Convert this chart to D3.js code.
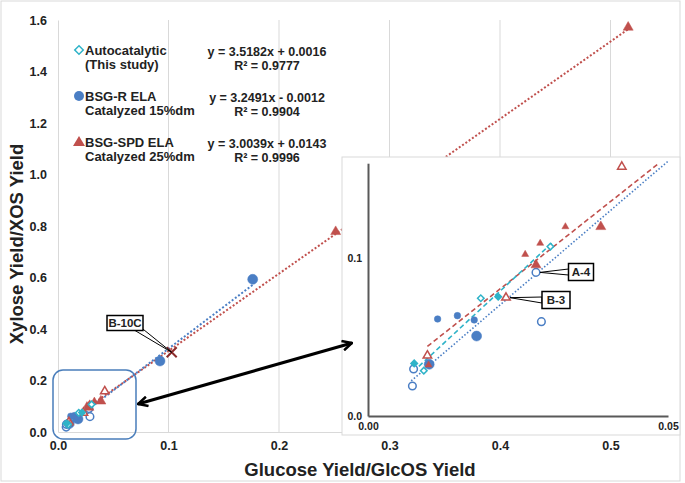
<!DOCTYPE html>
<html><head><meta charset="utf-8">
<script src="https://cdn.jsdelivr.net/npm/d3@7"></script>
<style>
html,body{margin:0;padding:0;background:#fff;}
svg text{font-family:"Liberation Sans",Arial,sans-serif;font-weight:bold;fill:#222;}
</style></head>
<body><svg id="c" width="685" height="483"></svg>
<script>
// ---- data ----
const xTicks = [0, 0.1, 0.2, 0.3, 0.4, 0.5];
const yTicks = [0, 0.2, 0.4, 0.6, 0.8, 1.0, 1.2, 1.4, 1.6];
const insetXTicks = [0, 0.05];
const insetYTicks = [0, 0.1];

const seriesNames = ["Autocatalytic", "BSG-R ELA", "BSG-SPD ELA"];
const legendLine2 = ["(This study)", "Catalyzed 15%dm", "Catalyzed 25%dm"];
const slopes = [3.5182, 3.2491, 3.0039];
const intercepts = [0.0016, -0.0012, 0.0143];
const equations = ["y = 3.5182x + 0.0016", "y = 3.2491x - 0.0012", "y = 3.0039x + 0.0143"];
const rSquared = ["R² = 0.9777", "R² = 0.9904", "R² = 0.9996"];
const fitStartX = [0.0075, 0.0072, 0.0099];
const fitEndX = [0.0309, 0.1762, 0.516];

// Autocatalytic (diamonds)
const autoFilledX = [0.0077, 0.0217];
const autoFilledY = [0.0333, 0.0755];
const autoHollowX = [0.0093, 0.0188, 0.0304];
const autoHollowY = [0.0287, 0.0745, 0.1072];
// BSG-R (circles)
const bsgrSmallX = [0.0116, 0.0149, 0.0177];
const bsgrSmallY = [0.0614, 0.0635, 0.0608];
const bsgrLargeX = [0.0102, 0.0181, 0.0923, 0.1762];
const bsgrLargeY = [0.0327, 0.0506, 0.2757, 0.593];
const bsgrHollowX = [0.0074, 0.0076, 0.0280, 0.0289];
const bsgrHollowY = [0.0190, 0.0297, 0.0909, 0.0597];
// BSG-SPD (triangles)
const spdSmallX = [0.0101, 0.0262, 0.0287, 0.0329];
const spdSmallY = [0.0323, 0.1023, 0.1093, 0.1198];
const spdLargeX = [0.0280, 0.0388, 0.2513, 0.516];
const spdLargeY = [0.0956, 0.1198, 0.778, 1.5716];
const spdHollowX = [0.0099, 0.0230, 0.0423];
const spdHollowY = [0.0382, 0.0749, 0.1578];
// Labelled points
const b10cX = 0.1029, b10cY = 0.3095;
const a4X = 0.0280, a4Y = 0.0909;
const b3X = 0.0230, b3Y = 0.0749;

// ---- styles ----
const CYAN = "#2FB3C8", BLUE = "#4A7EC4", RED = "#C0504D", DKRED = "#8B2B2B";
const colors = [CYAN, BLUE, RED];

const svg = d3.select("#c");
svg.append("rect").attr("x",1).attr("y",1).attr("width",679).attr("height",480)
  .attr("fill","#fff").attr("stroke","#d9d9d9").attr("stroke-width",1);

const zip = (xs, ys) => xs.map((x,i)=>[x, ys[i]]);

// ---- main chart ----
const x = d3.scaleLinear().domain([0, 0.55]).range([58, 665.75]);
const y = d3.scaleLinear().domain([0, 1.6]).range([432, 20]);

// gridlines
svg.append("g").selectAll("line").data(xTicks.slice(1)).join("line")
  .attr("x1", d=>x(d)).attr("x2", d=>x(d)).attr("y1", y(0)).attr("y2", y(1.6))
  .attr("stroke","#d9d9d9").attr("stroke-width",1);

const xAxis = svg.append("g").attr("transform",`translate(0,${y(0)})`)
  .call(d3.axisBottom(x).tickValues(xTicks).tickSize(0).tickPadding(9).tickFormat(d3.format(".1f")));
const yAxis = svg.append("g").attr("transform",`translate(${x(0)},0)`)
  .call(d3.axisLeft(y).tickValues(yTicks).tickSize(0).tickPadding(11).tickFormat(d3.format(".1f")));
[xAxis, yAxis].forEach(a=>{
  a.select(".domain").attr("stroke","#d9d9d9").attr("stroke-width",1);
  a.selectAll("text").attr("font-size",12.5).style("font-family","Liberation Sans, Arial").style("font-weight","bold").attr("fill","#222");
});

svg.append("text").attr("x",360).attr("y",476).attr("text-anchor","middle")
  .attr("font-size",18.5).text("Glucose Yield/GlcOS Yield");
svg.append("text").attr("transform","translate(23,244) rotate(-90)").attr("text-anchor","middle")
  .attr("font-size",18.5).text("Xylose Yield/XOS Yield");

// trendlines (main, dotted)
const mainLines = svg.append("g");
[2,1,0].forEach(i=>{
  mainLines.append("line")
    .attr("x1", x(fitStartX[i])).attr("y1", y(slopes[i]*fitStartX[i]+intercepts[i]))
    .attr("x2", x(fitEndX[i])).attr("y2", y(slopes[i]*fitEndX[i]+intercepts[i]))
    .attr("stroke", colors[i]).attr("stroke-width",2).attr("stroke-dasharray","2,2");
});

// marker helpers
function diamond(g, pts, sx, sy, side, filled){
  g.selectAll(null).data(pts).join("rect")
    .attr("x",-side/2).attr("y",-side/2).attr("width",side).attr("height",side)
    .attr("transform", d=>`translate(${sx(d[0])},${sy(d[1])}) rotate(45)`)
    .attr("fill", filled?CYAN:"#fff").attr("stroke",CYAN).attr("stroke-width",1.5);
}
function circles(g, pts, sx, sy, r, filled){
  g.selectAll(null).data(pts).join("circle")
    .attr("cx", d=>sx(d[0])).attr("cy", d=>sy(d[1])).attr("r", r)
    .attr("fill", filled?BLUE:"#fff").attr("stroke",BLUE).attr("stroke-width",filled?0.5:1.5);
}
function triangles(g, pts, sx, sy, s, filled){
  const h = s*Math.sqrt(3)/2;
  g.selectAll(null).data(pts).join("path")
    .attr("d", `M0,${-h*2/3}L${s/2},${h/3}L${-s/2},${h/3}Z`)
    .attr("transform", d=>`translate(${sx(d[0])},${sy(d[1])})`)
    .attr("fill", filled?RED:"#fff").attr("stroke",RED).attr("stroke-width",filled?0.5:1.5);
}

function drawPoints(g, sx, sy, k){
  circles(g, zip(bsgrHollowX,bsgrHollowY), sx, sy, 3.8*k, false);
  circles(g, zip(bsgrLargeX,bsgrLargeY), sx, sy, 5*k, true);
  circles(g, zip(bsgrSmallX,bsgrSmallY), sx, sy, 3.3*k, true);
  triangles(g, zip(spdHollowX,spdHollowY), sx, sy, 8.5*k, false);
  triangles(g, zip(spdLargeX,spdLargeY), sx, sy, 10*k, true);
  triangles(g, zip(spdSmallX,spdSmallY), sx, sy, 7*k, true);
  diamond(g, zip(autoHollowX,autoHollowY), sx, sy, 4.6*k, false);
  diamond(g, zip(autoFilledX,autoFilledY), sx, sy, 4.6*k, true);
}
const mainPts = svg.append("g");
drawPoints(mainPts, x, y, 1);

// B-10C cross
const bx = x(b10cX), by = y(b10cY);
svg.append("path").attr("d",`M${bx-5},${by-5}L${bx+5},${by+5}M${bx+5},${by-5}L${bx-5},${by+5}`)
  .attr("stroke",DKRED).attr("stroke-width",2);

// callout helper
function callout(cx, cy, w, h, label, tipX, tipY, side){
  const g = svg.append("g");
  let base;
  if(side==="left") base = [[cx-w/2, cy-3],[cx-w/2, cy+3]];
  else base = [[cx+w/2-8, cy+h/2],[cx+w/2-2, cy+h/2-3]];
  g.append("path").attr("d",`M${base[0][0]},${base[0][1]}L${tipX},${tipY}L${base[1][0]},${base[1][1]}Z`)
    .attr("fill","#fff").attr("stroke","#000").attr("stroke-width",1);
  g.append("rect").attr("x",cx-w/2).attr("y",cy-h/2).attr("width",w).attr("height",h)
    .attr("fill","#fff").attr("stroke","#000").attr("stroke-width",1.5);
  g.append("text").attr("x",cx).attr("y",cy+4).attr("text-anchor","middle").attr("font-size",11.5).text(label);
}
callout(125, 323, 36, 15, "B-10C", bx, by, "bottom");

// zoom box
svg.append("rect").attr("x",53).attr("y",370).attr("width",83).attr("height",69).attr("rx",10)
  .attr("fill","none").attr("stroke","#4A7EBB").attr("stroke-width",1.5);

// ---- legend ----
const lg = svg.append("g");
const legY = [50, 96, 142];
seriesNames.forEach((n,i)=>{
  lg.append("text").attr("x",85).attr("y",legY[i]+4.5).attr("font-size",13).text(n);
  lg.append("text").attr("x",85).attr("y",legY[i]+19).attr("font-size",13).text(legendLine2[i]);
  lg.append("text").attr("x",267).attr("y",legY[i]+6).attr("text-anchor","middle").attr("font-size",12.5).text(equations[i]);
  lg.append("text").attr("x",267).attr("y",legY[i]+20).attr("text-anchor","middle").attr("font-size",12.5).text(rSquared[i]);
});
lg.append("rect").attr("x",-3).attr("y",-3).attr("width",6).attr("height",6)
  .attr("transform",`translate(79,${legY[0]}) rotate(45)`).attr("fill","#fff").attr("stroke",CYAN).attr("stroke-width",1.5);
lg.append("circle").attr("cx",79).attr("cy",legY[1]).attr("r",5).attr("fill",BLUE);
lg.append("path").attr("d",`M79,${legY[2]-6}L85,${legY[2]+4}L73,${legY[2]+4}Z`).attr("fill",RED);

// ---- inset ----
svg.append("rect").attr("x",342).attr("y",157).attr("width",338).attr("height",278)
  .attr("fill","#fff").attr("stroke","#d9d9d9").attr("stroke-width",1);
const ix = d3.scaleLinear().domain([0, 0.05]).range([368, 668]);
const iy = d3.scaleLinear().domain([0, 0.16]).range([416, 163.2]);

const ixAxis = svg.append("g").attr("transform",`translate(0,${iy(0)})`)
  .call(d3.axisBottom(ix).tickValues(insetXTicks).tickSize(0).tickPadding(7).tickFormat(d3.format(".2f")));
const iyAxis = svg.append("g").attr("transform",`translate(${ix(0)},0)`)
  .call(d3.axisLeft(iy).tickValues(insetYTicks).tickSize(0).tickPadding(6).tickFormat(d3.format(".1f")));
[ixAxis, iyAxis].forEach(a=>{
  a.select(".domain").attr("stroke","#595959").attr("stroke-width",2);
  a.selectAll("text").attr("font-size",10.5).style("font-family","Liberation Sans, Arial").style("font-weight","bold").attr("fill","#222");
});

// inset trendlines
const insetEnd = [0.0309, 0.05, (0.16-intercepts[2])/slopes[2]];
const insetDash = ["5,3", "1.5,2", "5,3"];
[1,2,0].forEach(i=>{
  svg.append("line")
    .attr("x1", ix(fitStartX[i])).attr("y1", iy(slopes[i]*fitStartX[i]+intercepts[i]))
    .attr("x2", ix(insetEnd[i])).attr("y2", iy(slopes[i]*insetEnd[i]+intercepts[i]))
    .attr("stroke", colors[i]).attr("stroke-width",1.6).attr("stroke-dasharray",insetDash[i]);
});

const inPts = svg.append("g");
function inRange(xs){return xs;}
drawPoints(inPts, ix, iy, 1);
// remove points outside inset
inPts.selectAll("circle,path,rect").filter(function(d){return d[0]>0.05 || d[1]>0.16;}).remove();

callout(581, 272, 25, 17, "A-4", ix(a4X)+4, iy(a4Y), "left");
callout(556, 300, 28, 17, "B-3", ix(b3X)+4, iy(b3Y), "left");

// ---- double-headed arrow ----
const defs = svg.append("defs");
defs.append("marker").attr("id","ah").attr("viewBox","0 0 10 10").attr("refX",9).attr("refY",5)
  .attr("markerWidth",4).attr("markerHeight",4).attr("orient","auto-start-reverse")
  .append("path").attr("d","M1,1L9,5L1,9").attr("fill","none").attr("stroke","#000").attr("stroke-width",2);
svg.append("line").attr("x1",138).attr("y1",404).attr("x2",352).attr("y2",343)
  .attr("stroke","#000").attr("stroke-width",3)
  .attr("marker-start","url(#ah)").attr("marker-end","url(#ah)");
</script></body></html>
